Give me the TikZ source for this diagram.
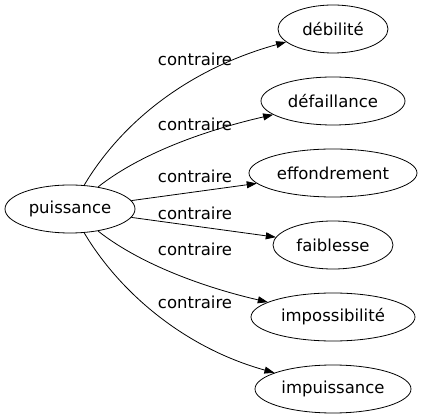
\documentclass[tikz,border=0pt]{standalone}
\usepackage{fontspec}
\setmainfont{DejaVu Sans}
\usetikzlibrary{shapes.geometric,arrows.meta}
\begin{document}
\begin{tikzpicture}[x=1pt,y=-1pt,line width=0.8pt,font=\fontsize{16.5}{19}\selectfont,
  >={Triangle[length=10pt,width=7pt]},
  word/.style={draw,ellipse,inner sep=0pt,minimum height=48pt}]
\useasboundingbox (0,0) rectangle (423,419);

\node (puis) at (70,209) [word,minimum width=130pt] {puissance};
\node (deb) at (333,29) [word,minimum width=110pt] {débilité};
\node (def) at (333,101) [word,minimum width=144pt] {défaillance};
\node (eff) at (333,173) [word,minimum width=168pt] {effondrement};
\node (fai) at (333,245) [word,minimum width=120pt] {faiblesse};
\node (imp) at (333,317) [word,minimum width=164pt] {impossibilité};
\node (impu) at (333,389) [word,minimum width=156pt] {impuissance};

\draw [->] (puis) .. controls (120,125) and (185,70) .. (deb);
\draw [->] (puis) .. controls (145,150) and (215,128) .. (def);
\draw [->] (puis) -- (eff);
\draw [->] (puis) -- (fai);
\draw [->] (puis) .. controls (145,268) and (215,290) .. (imp);
\draw [->] (puis) .. controls (120,293) and (185,348) .. (impu);

\node (l1) at (195,59) {contraire};
\node (l2) at (195,124) {contraire};
\node (l3) at (195,176) {contraire};
\node (l4) at (195,213) {contraire};
\node (l5) at (195,249) {contraire};
\node (l6) at (195,302) {contraire};
\end{tikzpicture}
\end{document}
